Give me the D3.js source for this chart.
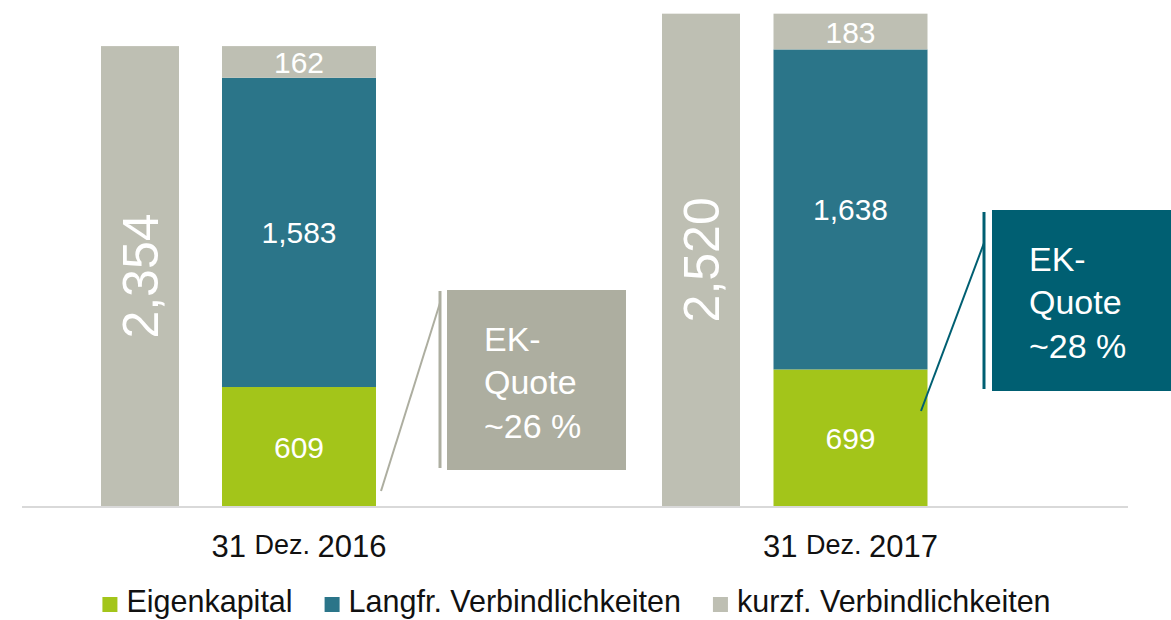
<!DOCTYPE html>
<html>
<head>
<meta charset="utf-8">
<script src="https://cdn.jsdelivr.net/npm/d3@7"></script>
<style>
  html, body { margin: 0; padding: 0; background: #ffffff; }
  svg { display: block; }
  text { font-family: "Liberation Sans", Arial, sans-serif; }
</style>
</head>
<body>
<svg id="chart" width="1171" height="620"></svg>
<script>
// ---- data ----
const categories = ["2016", "2017"];
const dayLabels = ["31", "31"];
const monthLabels = ["Dez.", "Dez."];
const yearLabels = ["2016", "2017"];
const totals = [2354, 2520];
const eigenkapital = [609, 699];
const langfr = [1583, 1638];
const kurzf = [162, 183];
const quoteLabels = ["~26 %", "~28 %"];
const seriesNames = ["Eigenkapital", "Langfr. Verbindlichkeiten", "kurzf. Verbindlichkeiten"];

// ---- styles ----
const colors = ["#a3c51a", "#2b7589", "#bebfb3"];
const totalColor = "#bebfb3";
const calloutColors = ["#adaea0", "#005f72"];

const svg = d3.select("#chart");
const W = 1171, H = 620;
const baseline = 506;

const y = d3.scaleLinear().domain([0, 2590]).range([baseline, 0]);
const xTotal = d3.scalePoint().domain(categories).range([140, 701]);
const xStack = d3.scalePoint().domain(categories).range([299, 850.5]);
const totalW = 78, stackW = 154;

// stack data
const rows = categories.map((c, i) => ({cat: c, s0: eigenkapital[i], s1: langfr[i], s2: kurzf[i]}));
const stack = d3.stack().keys(["s0", "s1", "s2"])(rows);

// total bars
svg.append("g").selectAll("rect").data(categories).join("rect")
  .attr("x", d => xTotal(d) - totalW / 2)
  .attr("width", totalW)
  .attr("y", (d, i) => y(totals[i]))
  .attr("height", (d, i) => y(0) - y(totals[i]))
  .attr("fill", totalColor);

svg.append("g").selectAll("text").data(categories).join("text")
  .attr("transform", (d, i) => `translate(${xTotal(d) + 18},${(y(totals[i]) + y(0)) / 2}) rotate(-90)`)
  .attr("text-anchor", "middle")
  .attr("fill", "#ffffff")
  .attr("font-size", 50)
  .text((d, i) => d3.format(",")(totals[i]));

// stacked bars
const layers = svg.append("g").selectAll("g").data(stack).join("g")
  .attr("fill", (d, i) => colors[i]);
layers.selectAll("rect").data(d => d).join("rect")
  .attr("x", d => xStack(d.data.cat) - stackW / 2)
  .attr("width", stackW)
  .attr("y", d => y(d[1]))
  .attr("height", d => y(d[0]) - y(d[1]));
layers.selectAll("text").data(d => d).join("text")
  .attr("x", d => xStack(d.data.cat))
  .attr("y", d => (y(d[0]) + y(d[1])) / 2 + 11)
  .attr("text-anchor", "middle")
  .attr("fill", "#ffffff")
  .attr("font-size", 30)
  .text(d => d3.format(",")(d[1] - d[0]));

// axis baseline
const xAxisScale = d3.scaleLinear().domain([0, 1]).range([22, 1128]);
svg.append("line")
  .attr("x1", xAxisScale(0)).attr("x2", xAxisScale(1))
  .attr("y1", baseline + 1).attr("y2", baseline + 1)
  .attr("stroke", "#d9d9d9").attr("stroke-width", 2);

// category labels
const cl = svg.append("g").selectAll("text").data(categories).join("text")
  .attr("x", d => xStack(d))
  .attr("y", 557)
  .attr("text-anchor", "middle")
  .attr("fill", "#111111")
  .attr("font-size", 31);
cl.append("tspan").text((d, i) => dayLabels[i] + " ");
cl.append("tspan").attr("font-size", 27).attr("dy", -3).text((d, i) => monthLabels[i] + " ");
cl.append("tspan").attr("dy", 3).text((d, i) => yearLabels[i]);

// callouts
const callouts = [
  {box: [447, 290, 179, 180], vline: [440, 291, 468], lead: [381, 491, 440, 303]},
  {box: [992, 210, 179, 181], vline: [984, 212, 389], lead: [921, 411, 984, 243]}
];
const cg = svg.append("g").selectAll("g").data(callouts).join("g");
cg.append("rect")
  .attr("x", d => d.box[0]).attr("y", d => d.box[1])
  .attr("width", d => d.box[2]).attr("height", d => d.box[3])
  .attr("fill", (d, i) => calloutColors[i]);
cg.append("line")
  .attr("x1", d => d.vline[0]).attr("x2", d => d.vline[0])
  .attr("y1", d => d.vline[1]).attr("y2", d => d.vline[2])
  .attr("stroke", (d, i) => calloutColors[i]).attr("stroke-width", 3);
cg.append("line")
  .attr("x1", d => d.lead[0]).attr("y1", d => d.lead[1])
  .attr("x2", d => d.lead[2]).attr("y2", d => d.lead[3])
  .attr("stroke", (d, i) => calloutColors[i]).attr("stroke-width", 2);
const ct = cg.append("text")
  .attr("fill", "#ffffff")
  .attr("font-size", 34);
ct.append("tspan").attr("x", d => d.box[0] + 37).attr("y", d => d.box[1] + 61).text("EK-");
ct.append("tspan").attr("x", d => d.box[0] + 37).attr("y", d => d.box[1] + 104).text("Quote");
ct.append("tspan").attr("x", d => d.box[0] + 37).attr("y", d => d.box[1] + 148).text((d, i) => quoteLabels[i]);

// legend
const legend = svg.append("g");
let lx = 0;
const gap = 32;
seriesNames.forEach((name, i) => {
  const g = legend.append("g");
  g.append("rect").attr("x", 0).attr("y", -15).attr("width", 15).attr("height", 15).attr("fill", colors[i]);
  const t = g.append("text").attr("x", 24).attr("y", 0).attr("font-size", 30.5).attr("fill", "#111111").text(name);
  const w = 24 + t.node().getComputedTextLength();
  g.attr("transform", `translate(${lx},612)`);
  lx += w + gap;
});
const legendWidth = lx - gap;
legend.attr("transform", `translate(${(W - legendWidth) / 2 - 9},0)`);
</script>
</body>
</html>
